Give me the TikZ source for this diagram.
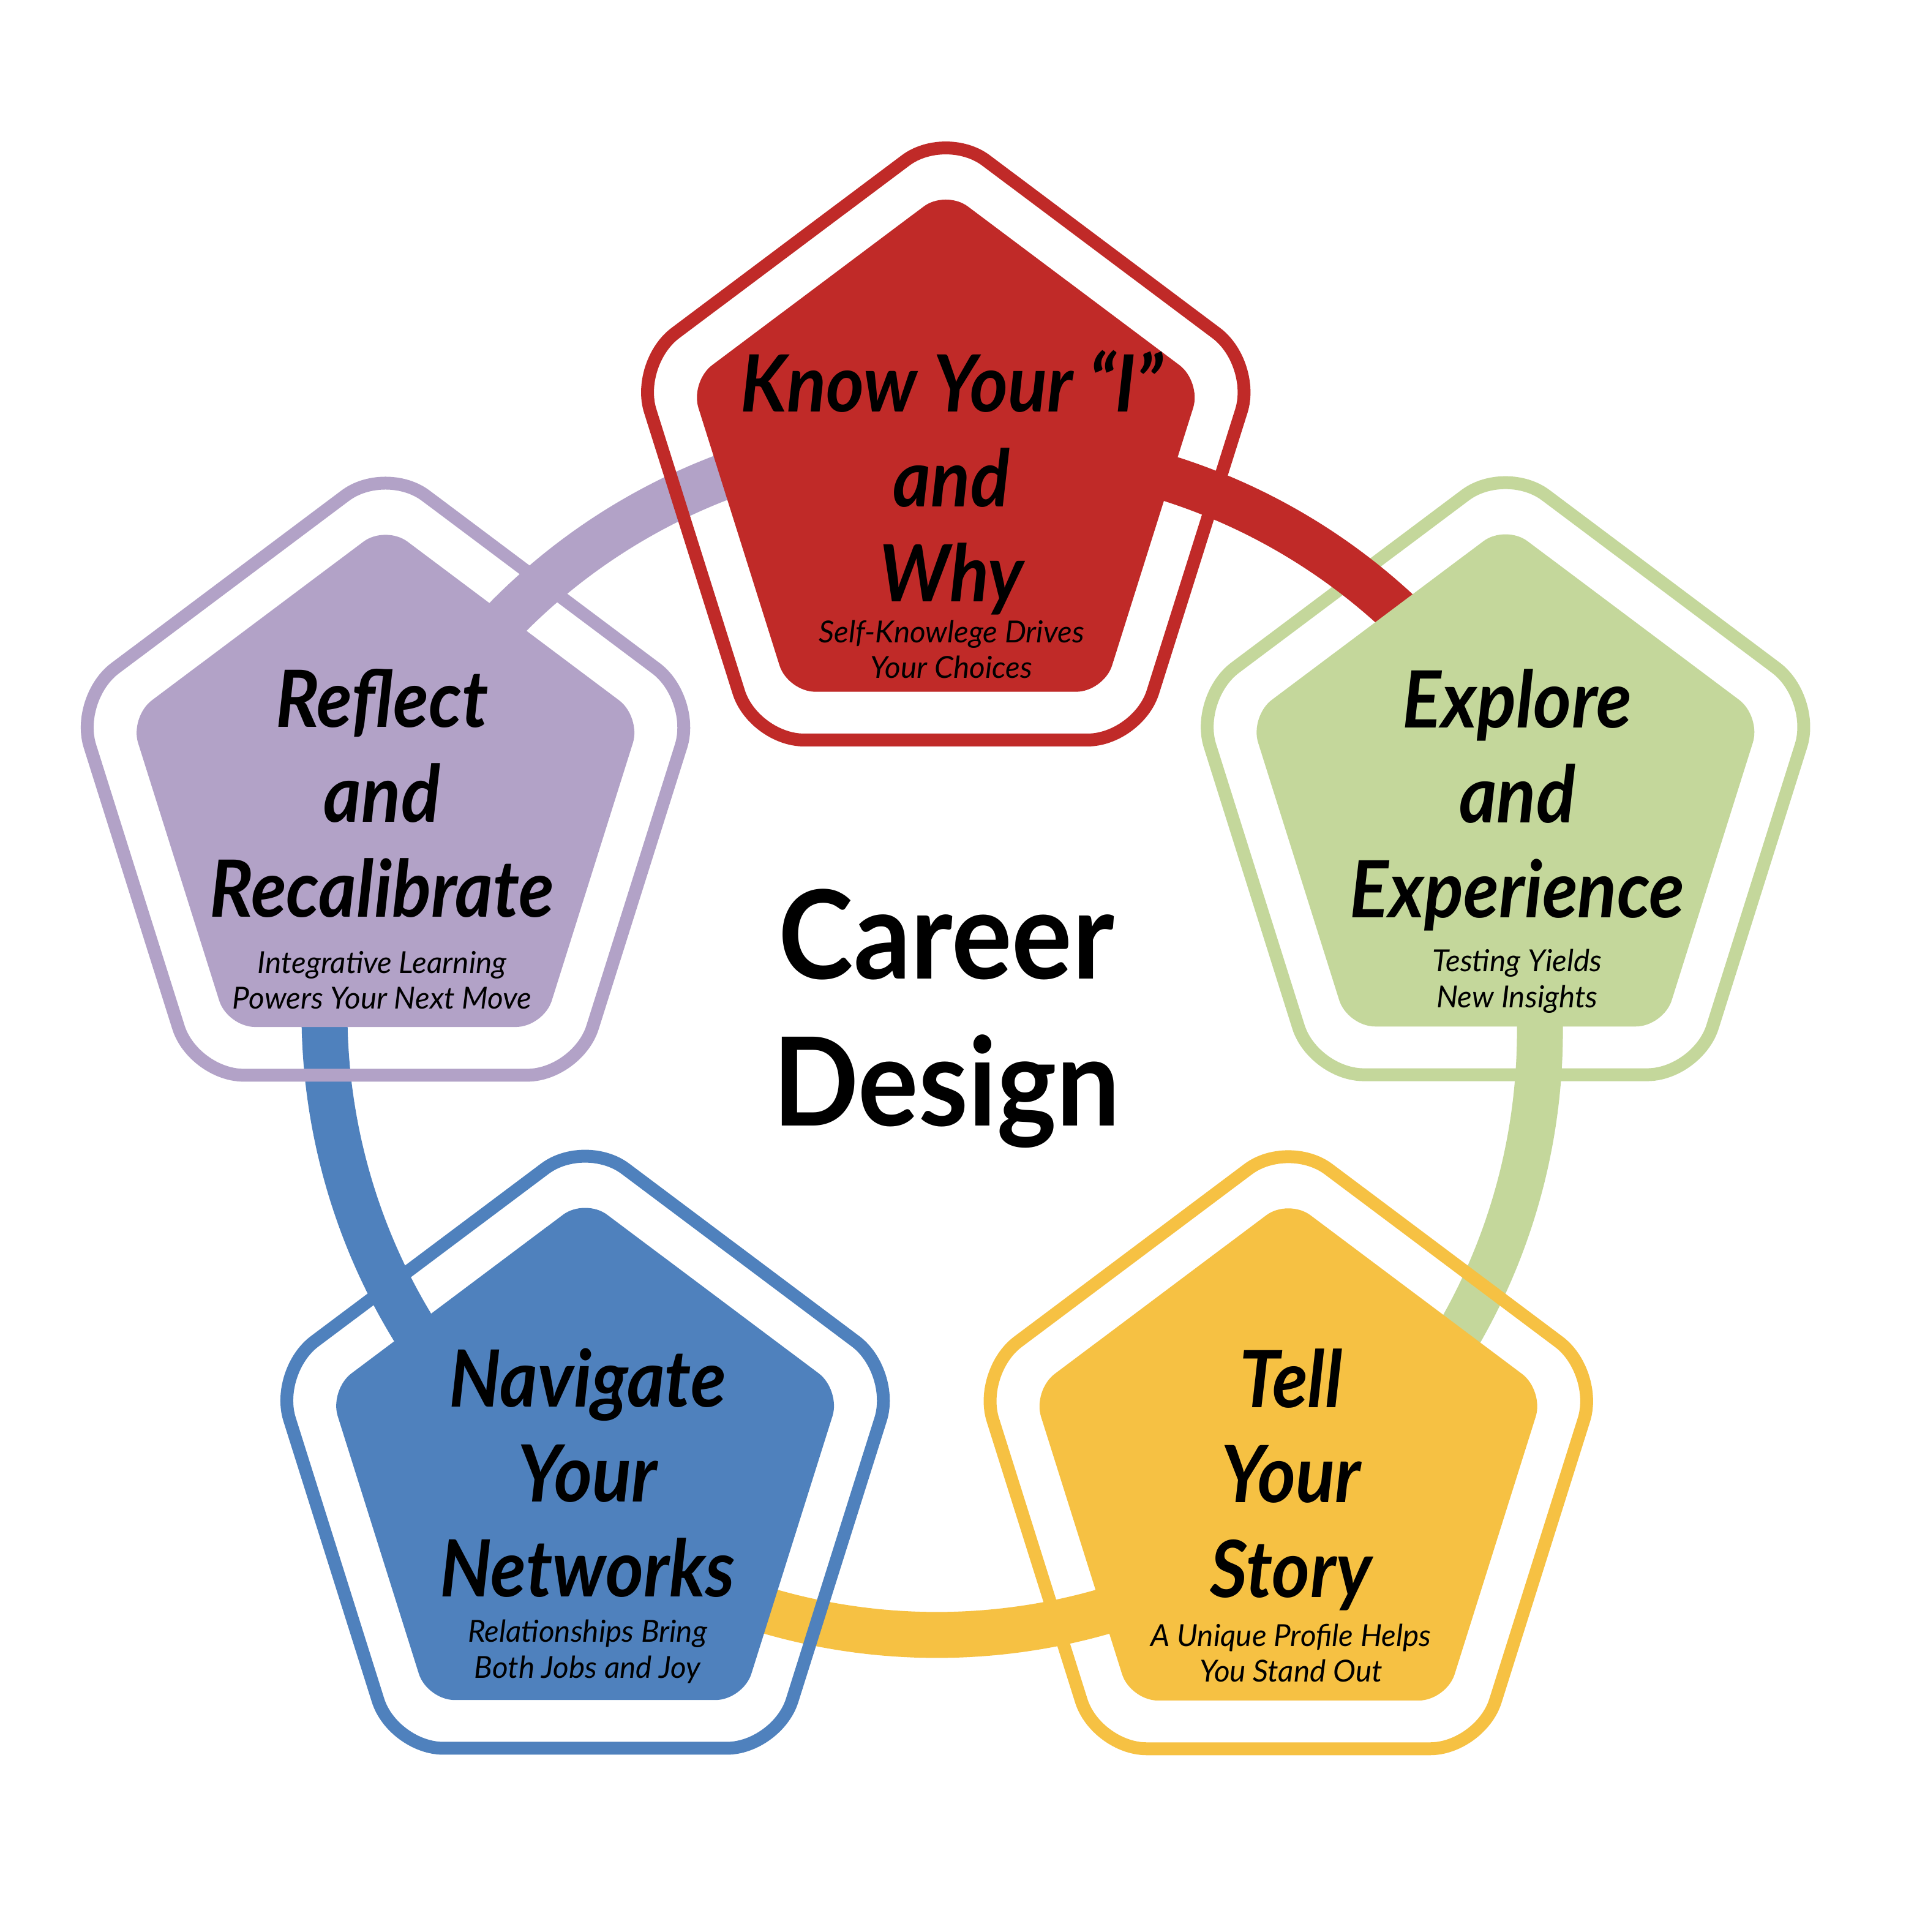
\documentclass[tikz,border=0pt]{standalone}
\usepackage{fontspec}
\setmainfont{Lato}
\newfontfamily\headfont{Lato}[FakeStretch=0.92]
\usepackage{tikz}
\usetikzlibrary{calc}
\definecolor{stepred}{HTML}{C02A28}
\definecolor{stepgreen}{HTML}{C4D79B}
\definecolor{stepyellow}{HTML}{F6C143}
\definecolor{stepblue}{HTML}{4F81BD}
\definecolor{steppurple}{HTML}{B2A2C7}
\newcommand{\stacklines}[1]{\begin{tabular}[t]{@{}c@{}}#1\end{tabular}}
\tikzset{
  band/.style={line width=7.5mm},
  rim/.style={line width=2.1mm, rounded corners=8.2mm},
  core/.style={rounded corners=4.5mm},
  heading/.style={anchor=base, font=\fontsize{36.7}{44.1}\selectfont\headfont\bfseries\itshape},
  tagline/.style={anchor=base, font=\fontsize{14.1}{16.6}\selectfont\itshape},
  hub/.style={anchor=base, font=\fontsize{57.1}{68.2}\selectfont\headfont\bfseries}
}

\begin{document}
\begin{tikzpicture}
  \useasboundingbox[fill=white] (0,0) rectangle (31.43,31.55);
  % centres of the pentagons and of the ring pieces
  \coordinate (ring) at (15.30,14.70);
  \coordinate (topring) at (15.30,14.55);
  \coordinate (rightring) at (16.124,14.344);
  \coordinate (leftring) at (15.15,15.00);
  \coordinate (red) at (15.447,23.918);
  \coordinate (green) at (24.588,18.452);
  \coordinate (yellow) at (21.042,7.445);
  \coordinate (blue) at (9.556,7.453);
  \coordinate (purple) at (6.296,18.444);
  % where the ring runs under each pentagon
  \coordinate (redR) at ($(rightring)+(94:9.85)$);
  \coordinate (greenR) at ($(ring)+(22:9.85)$);
  \coordinate (yellowR) at ($(ring)+(-51.6:9.85)$);
  \coordinate (blueR) at ($(leftring)+(-126.7:9.85)$);
  \coordinate (purpleR) at ($(topring)+(156.6:9.85)$);
  % green rim lies under the red piece
  \begin{scope}[shift={(green)}]
    \draw[rim, stepgreen] (90:5.334 and 5.504) \foreach \a in {162,234,306,18} {-- (\a:5.334 and 5.504)} -- cycle;
  \end{scope}
  % ring pieces
  \draw[band, stepred] (redR) arc[start angle=94, end angle=25.9, radius=9.85];
  \draw[band, steppurple] (purpleR) arc[start angle=156.6, end angle=89.1, radius=9.85];
  \draw[band, stepblue] (blueR) arc[start angle=-126.7, end angle=-203, radius=9.85];
  \draw[band, stepyellow] (yellowR) arc[start angle=-51.6, end angle=-128.4, radius=9.85];
  \draw[band, stepgreen] (greenR) arc[start angle=22, end angle=-51.6, radius=9.85];
  % other rims
  \foreach \p/\col in {red/stepred, yellow/stepyellow, blue/stepblue, purple/steppurple} {
    \begin{scope}[shift={(\p)}]
      \draw[rim, \col] (90:5.334 and 5.504) \foreach \a in {162,234,306,18} {-- (\a:5.334 and 5.504)} -- cycle;
    \end{scope}
  }
  % filled pentagons
  \foreach \p/\col in {red/stepred, green/stepgreen, yellow/stepyellow, blue/stepblue, purple/steppurple} {
    \begin{scope}[shift={(\p)}]
      \fill[core, \col] (90:4.39 and 4.53) \foreach \a in {162,234,306,18} {-- (\a:4.39 and 4.53)} -- cycle;
    \end{scope}
  }
  % First step
  \node[heading] (redT) at (15.54,24.829) {\stacklines{Know Your “I”\\and\\Why}};
  \node[tagline] (redS) at (15.54,21.059) {\stacklines{Self-Knowlege Drives\\Your Choices}};
  % Second step
  \node[heading] (greenT) at (24.78,19.663) {\stacklines{Explore\\and\\Experience}};
  \node[tagline] (greenS) at (24.78,15.68) {\stacklines{Testing Yields\\New Insights}};
  % Third step
  \node[heading] (yellowT) at (21.085,8.563) {\stacklines{Tell\\Your\\Story}};
  \node[tagline] (yellowS) at (21.085,4.666) {\stacklines{A Unique Profile Helps\\You Stand Out}};
  % Fourth step
  \node[heading] (blueT) at (9.595,8.577) {\stacklines{Navigate\\Your\\Networks}};
  \node[tagline] (blueS) at (9.595,4.733) {\stacklines{Relationships Bring\\Both Jobs and Joy}};
  % Fifth step
  \node[heading] (purpleT) at (6.24,19.677) {\stacklines{Reflect\\and\\Recalibrate}};
  \node[tagline] (purpleS) at (6.24,15.659) {\stacklines{Integrative Learning\\Powers Your Next Move}};
  % centre
  \node[hub] (hub) at (15.46,15.56) {\stacklines{Career\\Design}};
\end{tikzpicture}
\end{document}
